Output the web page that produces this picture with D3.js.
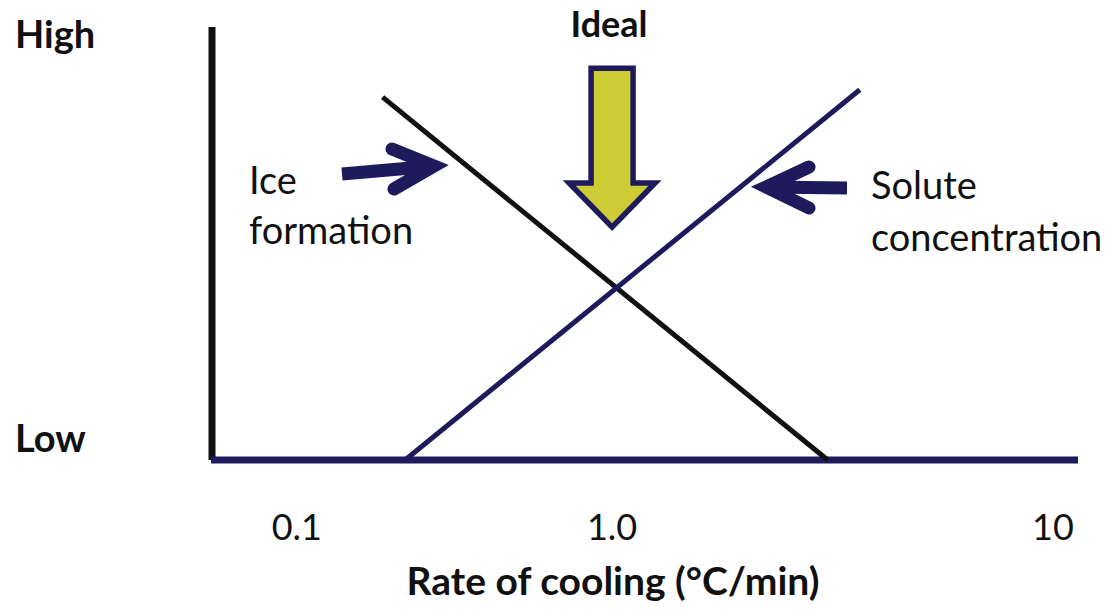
<!DOCTYPE html>
<html><head><meta charset="utf-8">
<script src="https://cdn.jsdelivr.net/npm/d3@7"></script>
<style>
html,body{margin:0;padding:0;background:#fff;overflow:hidden;}
svg{display:block;}
text{font-family:Lato,"Open Sans",sans-serif;fill:#111;}
</style></head>
<body>
<script>
// ---- data (abstract units: x = position along cooling-rate axis, y = Low(0)..High(100)) ----
const xTickLabels = ["0.1", "1.0", "10"];
const xTickValues = [0.98, 4.62, 9.71];
const yLabels = ["Low", "High"];
const iceFormation = [{x: 1.97, y: 83.8}, {x: 7.11, y: 0}];
const soluteConcentration = [{x: 2.23, y: 0}, {x: 7.48, y: 85.5}];
const idealMarker = {x: 4.62, top: 90.5, headBase: 64.0, tip: 53.8};
const xTitle = "Rate of cooling (°C/min)";

const W = 1115, H = 611;
const navy = "#1f1a5c", black = "#111111", yellow = "#cdcc35";

const svg = d3.select("body").append("svg").attr("width", W).attr("height", H);

const x = d3.scaleLinear().domain([0, 10]).range([212, 1078]);
const y = d3.scaleLinear().domain([0, 100]).range([460, 27]);

// vertical axis (black)
svg.append("line")
  .attr("x1", x(0)).attr("x2", x(0))
  .attr("y1", y(100)).attr("y2", y(0))
  .attr("stroke", black).attr("stroke-width", 7);

// horizontal axis (navy)
svg.append("line")
  .attr("x1", x(0) - 1).attr("x2", x(10))
  .attr("y1", y(0)).attr("y2", y(0))
  .attr("stroke", navy).attr("stroke-width", 7);

const line = d3.line().x(d => x(d.x)).y(d => y(d.y));

svg.append("path").datum(iceFormation).attr("d", line)
  .attr("fill", "none").attr("stroke", black).attr("stroke-width", 5);
svg.append("path").datum(soluteConcentration).attr("d", line)
  .attr("fill", "none").attr("stroke", navy).attr("stroke-width", 5);

// Ideal arrow
const cx = x(idealMarker.x);
const shaftHalf = 21, headHalf = 43;
const ideal = [
  [cx - shaftHalf, y(idealMarker.top)],
  [cx + shaftHalf, y(idealMarker.top)],
  [cx + shaftHalf, y(idealMarker.headBase)],
  [cx + headHalf, y(idealMarker.headBase)],
  [cx, y(idealMarker.tip)],
  [cx - headHalf, y(idealMarker.headBase)],
  [cx - shaftHalf, y(idealMarker.headBase)]
];
svg.append("path").attr("d", "M" + ideal.join("L") + "Z")
  .attr("fill", yellow).attr("stroke", navy).attr("stroke-width", 5.5)
  .attr("stroke-linejoin", "miter");

// pointer arrows
function pointer(shaftStart, tip, headA, headB) {
  const g = svg.append("g").attr("stroke", navy).attr("fill", "none").attr("stroke-width", 13);
  g.append("line").attr("x1", shaftStart[0]).attr("y1", shaftStart[1])
    .attr("x2", tip[0]).attr("y2", tip[1]).attr("stroke-linecap", "butt");
  g.append("path").attr("d", `M${headA[0]},${headA[1]}L${tip[0]},${tip[1]}L${headB[0]},${headB[1]}`)
    .attr("stroke-linecap", "round").attr("stroke-linejoin", "miter");
}
pointer([342, 174], [434, 166], [392, 149], [394, 189]);
pointer([847, 188], [766, 187], [809, 167], [809, 208]);

// text
svg.append("text").attr("x", 15).attr("y", 48).attr("font-size", 38).attr("font-weight", 700).text(yLabels[1]);
svg.append("text").attr("x", 15).attr("y", 452).attr("font-size", 38).attr("font-weight", 700).text(yLabels[0]);
svg.append("text").attr("x", 609).attr("y", 37).attr("text-anchor", "middle")
  .attr("font-size", 36).attr("font-weight", 700).text("Ideal");

const ice = svg.append("text").attr("font-size", 38);
ice.append("tspan").attr("x", 249).attr("y", 194).text("Ice");
ice.append("tspan").attr("x", 249).attr("y", 244).text("formation");
const sol = svg.append("text").attr("font-size", 38);
sol.append("tspan").attr("x", 871).attr("y", 199).text("Solute");
sol.append("tspan").attr("x", 871).attr("y", 251).text("concentration");

svg.selectAll("text.tick").data(xTickLabels).enter().append("text")
  .attr("class", "tick")
  .attr("x", (d, i) => x(xTickValues[i]))
  .attr("y", 540).attr("text-anchor", "middle").attr("font-size", 36).text(d => d);

svg.append("text").attr("x", 613).attr("y", 595).attr("text-anchor", "middle")
  .attr("font-size", 39).attr("font-weight", 700).text(xTitle);
</script>
</body></html>
